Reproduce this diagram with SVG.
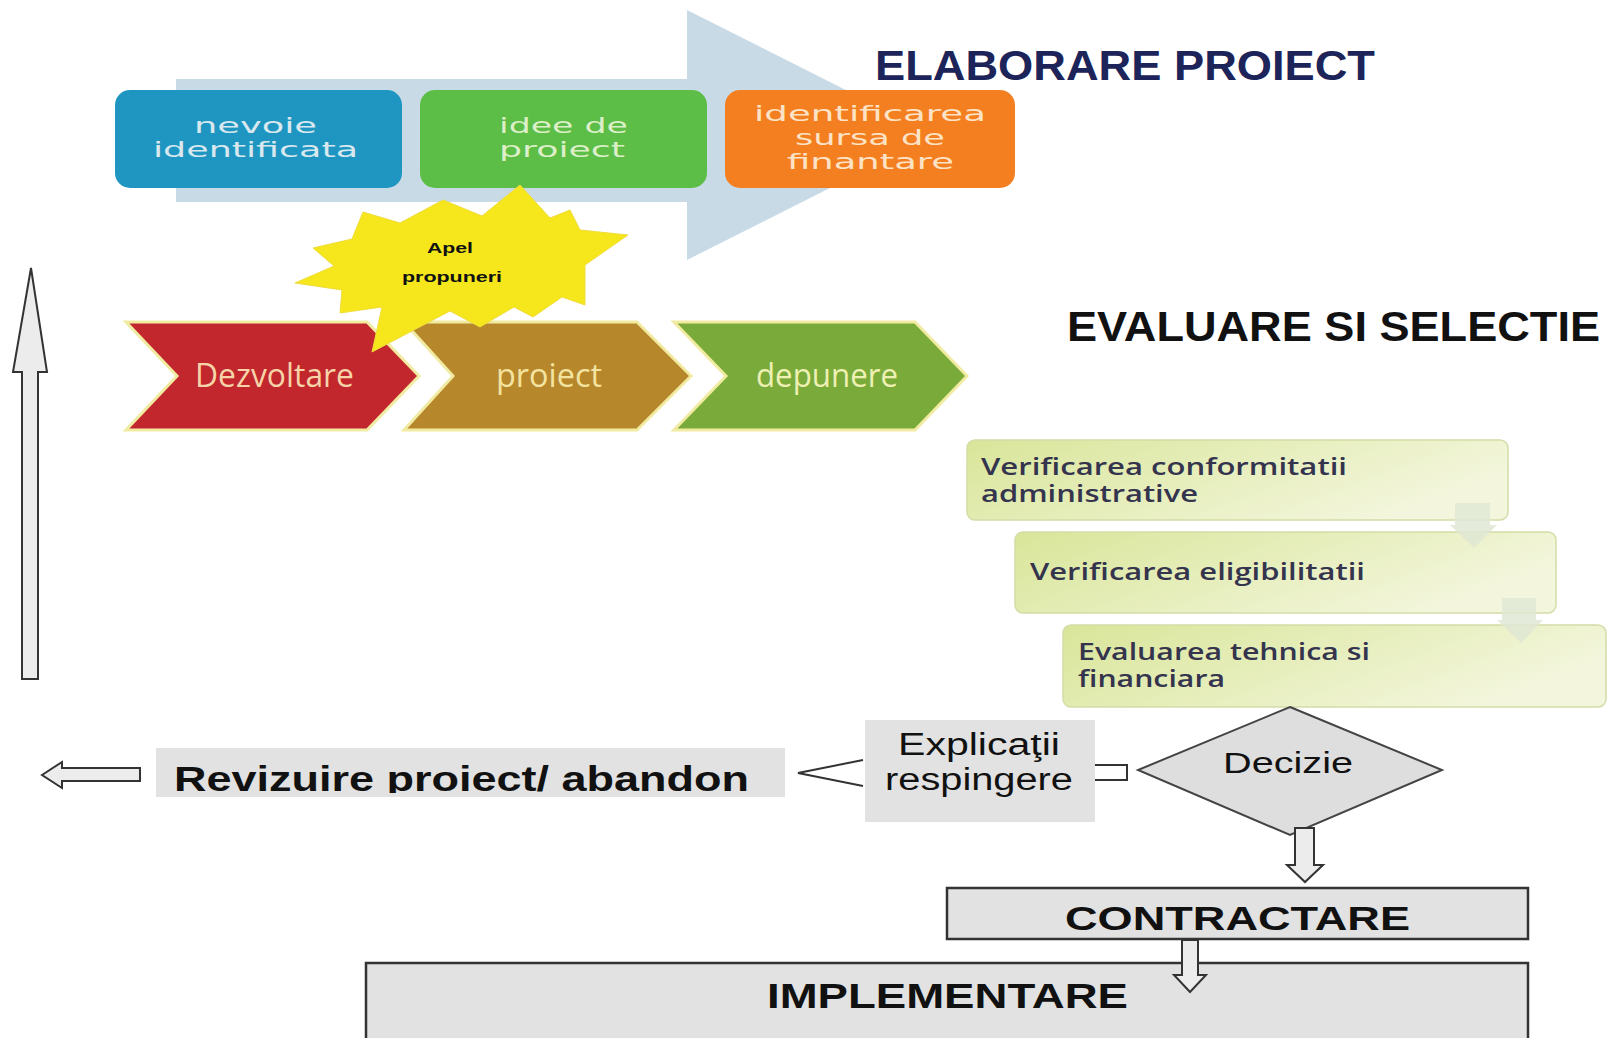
<svg xmlns="http://www.w3.org/2000/svg" width="1608" height="1038" viewBox="0 0 1608 1038">
<defs>
  <linearGradient id="evalGrad" x1="0" y1="0" x2="1" y2="0.4">
    <stop offset="0" stop-color="#d9e599"/>
    <stop offset="1" stop-color="#f3f6dc"/>
  </linearGradient>
  <clipPath id="revClip"><rect x="156" y="740" width="629" height="53"/></clipPath>
</defs>
<style>
  .tb{font-family:"DejaVu Sans",Verdana,sans-serif;font-size:21px}
  .chev{stroke:#f1eba2;stroke-width:3}
  .chevt{font-family:"Open Sans","Liberation Sans",sans-serif;font-size:32px}
  .head{font-family:"Liberation Sans",Arial,sans-serif;font-weight:bold}
  .evbox{fill:url(#evalGrad);stroke:#d3dda8;stroke-width:1.5}
  .evt{font-family:"Open Sans","Liberation Sans",sans-serif;font-weight:600;font-size:23px;fill:#34344e}
  .gbox{fill:#e2e2e2}
  .obox{fill:#e2e2e2;stroke:#333;stroke-width:2.5}
  .lt{font-family:"Liberation Sans",Arial,sans-serif;fill:#111}
  .bt{font-family:"Liberation Sans",Arial,sans-serif;font-weight:bold;fill:#111}
  .harrow{fill:#ececec;stroke:#333;stroke-width:2;stroke-linejoin:miter}
  .line{fill:none;stroke:#333;stroke-width:2}
  .farrow{fill:#dfe7d3;opacity:0.85}
</style>
<rect width="1608" height="1038" fill="#ffffff"/>

<g id="big-arrow">
  <polygon points="176,79 687,79 687,10 935,135 687,260 687,202 176,202" fill="#c7dae5"/>
</g>

<g id="nevoie">
  <rect x="115" y="90" width="287" height="98" rx="15" fill="#1f96c2"/>
  <text class="tb" fill="#d8e8ee" x="194" y="133" textLength="123" lengthAdjust="spacingAndGlyphs">nevoie</text>
  <text class="tb" fill="#d8e8ee" x="153" y="157" textLength="205" lengthAdjust="spacingAndGlyphs">identificata</text>
</g>
<g id="idee">
  <rect x="420" y="90" width="287" height="98" rx="15" fill="#5cbd47"/>
  <text class="tb" fill="#dcefc8" x="499" y="133" textLength="129" lengthAdjust="spacingAndGlyphs">idee de</text>
  <text class="tb" fill="#dcefc8" x="499" y="157" textLength="126" lengthAdjust="spacingAndGlyphs">proiect</text>
</g>
<g id="sursa">
  <rect x="725" y="90" width="290" height="98" rx="15" fill="#f47f20"/>
  <text class="tb" fill="#fde3c6" x="754" y="121" textLength="232" lengthAdjust="spacingAndGlyphs">identificarea</text>
  <text class="tb" fill="#fde3c6" x="795" y="145" textLength="150" lengthAdjust="spacingAndGlyphs">sursa de</text>
  <text class="tb" fill="#fde3c6" x="787" y="169" textLength="167" lengthAdjust="spacingAndGlyphs">finantare</text>
</g>

<g id="dezvoltare">
  <polygon class="chev" points="126,322 367,322 419,376 367,430 126,430 177,376" fill="#c1272d"/>
  <text class="chevt" fill="#f6d3a8" x="195" y="387" textLength="159" lengthAdjust="spacingAndGlyphs">Dezvoltare</text>
</g>
<g id="proiect">
  <polygon class="chev" points="404,322 637,322 691,376 637,430 404,430 453,376" fill="#b7872c"/>
  <text class="chevt" fill="#f3e3a0" x="496" y="387" textLength="106" lengthAdjust="spacingAndGlyphs">proiect</text>
</g>
<g id="depunere">
  <polygon class="chev" points="674,322 915,322 967,376 915,430 674,430 726,376" fill="#7aab3a"/>
  <text class="chevt" fill="#eef0b4" x="756" y="387" textLength="142" lengthAdjust="spacingAndGlyphs">depunere</text>
</g>

<g id="apel">
  <polygon points="520,185 550,218 570,210 580,230 628,235 585,265 585,305 562,297 533,317 514,307 480,327 450,311 372,352 382,307 340,313 342,290 295,283 334,266 313,248 352,239 363,212 400,223 443,200 482,216" fill="#f5e71c" stroke="#f0dc3a" stroke-width="1"/>
  <text class="bt" font-size="15" x="427" y="253" textLength="46" lengthAdjust="spacingAndGlyphs">Apel</text>
  <text class="bt" font-size="15" x="402" y="282" textLength="100" lengthAdjust="spacingAndGlyphs">propuneri</text>
</g>

<g id="titlu-elaborare">
  <text class="head" font-size="42" fill="#1c2459" x="875" y="80" textLength="500" lengthAdjust="spacingAndGlyphs">ELABORARE PROIECT</text>
</g>
<g id="titlu-evaluare">
  <text class="head" font-size="43" fill="#111" x="1067" y="341" textLength="533" lengthAdjust="spacingAndGlyphs">EVALUARE SI SELECTIE</text>
</g>

<g id="conformitate">
  <rect class="evbox" x="967" y="440" width="541" height="80" rx="8"/>
  <text class="evt" x="981" y="475" textLength="366" lengthAdjust="spacingAndGlyphs">Verificarea conformitatii</text>
  <text class="evt" x="981" y="502" textLength="217" lengthAdjust="spacingAndGlyphs">administrative</text>
</g>
<g id="eligibilitate">
  <rect class="evbox" x="1015" y="532" width="541" height="81" rx="8"/>
  <text class="evt" x="1030" y="580" textLength="335" lengthAdjust="spacingAndGlyphs">Verificarea eligibilitatii</text>
</g>
<g id="evaluare-tehnica">
  <rect class="evbox" x="1063" y="625" width="543" height="82" rx="8"/>
  <text class="evt" x="1078" y="660" textLength="292" lengthAdjust="spacingAndGlyphs">Evaluarea tehnica si</text>
  <text class="evt" x="1078" y="687" textLength="147" lengthAdjust="spacingAndGlyphs">financiara</text>
</g>

<g id="decizie">
  <polygon points="1290,707 1442,770 1290,835 1138,770" fill="#dedede" stroke="#444" stroke-width="2"/>
  <text class="lt" font-size="30" x="1223" y="773" textLength="130" lengthAdjust="spacingAndGlyphs">Decizie</text>
</g>

<g id="explicatii">
  <rect class="gbox" x="865" y="720" width="230" height="102"/>
  <text class="lt" font-size="31" x="979" y="755" text-anchor="middle" textLength="162" lengthAdjust="spacingAndGlyphs">Explicaţii</text>
  <text class="lt" font-size="31" x="979" y="790" text-anchor="middle" textLength="188" lengthAdjust="spacingAndGlyphs">respingere</text>
</g>

<g id="revizuire">
  <rect class="gbox" x="156" y="748" width="629" height="49"/>
  <text class="bt" font-size="35" x="174" y="791" textLength="575" lengthAdjust="spacingAndGlyphs" clip-path="url(#revClip)">Revizuire proiect/ abandon</text>
</g>

<g id="contractare">
  <rect class="obox" x="947" y="888" width="581" height="51"/>
  <text class="bt" font-size="33" x="1065" y="930" textLength="345" lengthAdjust="spacingAndGlyphs">CONTRACTARE</text>
</g>

<g id="implementare">
  <rect class="obox" x="366" y="963" width="1162" height="90"/>
  <text class="bt" font-size="35" x="767" y="1008" textLength="361" lengthAdjust="spacingAndGlyphs">IMPLEMENTARE</text>
</g>

<g id="connectors">
  <polygon class="farrow" points="1455,503 1490,503 1490,525 1497,525 1474,548 1450,525 1455,525"/>
  <polygon class="farrow" points="1502,598 1536,598 1536,620 1543,620 1521,643 1497,620 1502,620"/>
  <polygon class="harrow" points="31,268 47,372 38,372 38,679 22,679 22,372 13,372"/>
  <polygon class="harrow" points="42,775 62,762 62,768 140,768 140,781 62,781 62,788"/>
  <polyline class="line" points="863,760 798,773 863,786"/>
  <polyline class="line" points="1095,765 1127,765 1127,780 1095,780"/>
  <polygon class="harrow" points="1295,828 1314,828 1314,865 1323,865 1305,882 1287,865 1295,865"/>
  <polygon class="harrow" points="1182,940 1198,940 1198,975 1206,975 1190,992 1174,975 1182,975"/>
</g>
</svg>
